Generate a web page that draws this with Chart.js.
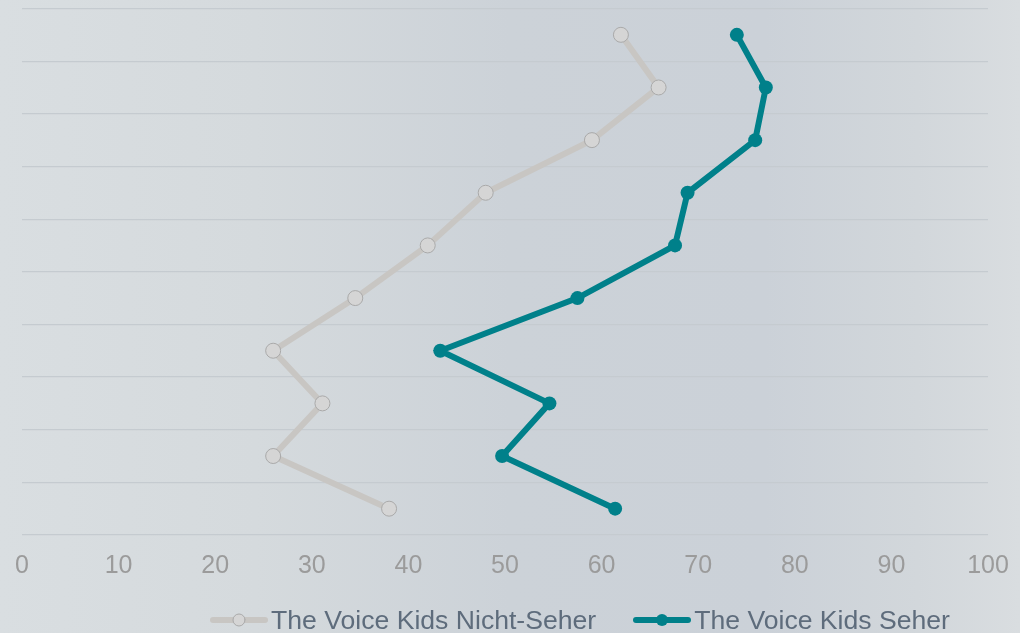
<!DOCTYPE html>
<html><head><meta charset="utf-8">
<script src="https://cdn.jsdelivr.net/npm/chart.js@4"></script>
<style>
html,body{margin:0;padding:0;width:1020px;height:633px;overflow:hidden;
background:linear-gradient(to right,#d9dee1 0%,#d5dadd 25%,#ccd2d8 50%,#cbd1d8 75%,#d2d7db 90%,#d9dde0 100%);}
#wrap{position:absolute;left:0;top:0;width:1020px;height:633px;}
#legend{position:absolute;left:210px;top:605px;height:30px;display:flex;align-items:center;
font-family:'Liberation Sans',Arial,sans-serif;font-size:26.6px;line-height:30px;color:#5e6c7c;white-space:nowrap;}
#legend .item{display:flex;align-items:center;margin-right:37px;}
#legend canvas{display:block;margin-right:3px;}
</style></head><body>
<div id="wrap"><canvas id="c" width="1020" height="633"></canvas></div>
<div id="legend"></div>
<script>
const categories = ['1','2','3','4','5','6','7','8','9','10'];
const nichtSeher = [62.0, 65.9, 59.0, 48.0, 42.0, 34.5, 26.0, 31.1, 26.0, 38.0];
const seher = [74.0, 77.0, 75.9, 68.9, 67.6, 57.5, 43.3, 54.6, 49.7, 61.4];
const seriesNames = ['The Voice Kids Nicht-Seher', 'The Voice Kids Seher'];
const xTicks = [0,10,20,30,40,50,60,70,80,90,100];

const styles = [
  { line: '#c8c6c3', fill: '#d5d5d5', border: '#a9a9a9', r: 7.5, bw: 1 },
  { line: '#00808a', fill: '#00808a', border: '#00808a', r: 7, bw: 0 }
];

function legendIcon(s) {
  const c = document.createElement('canvas');
  c.width = 58; c.height = 18;
  const g = c.getContext('2d');
  g.strokeStyle = s.line; g.lineWidth = 6; g.lineCap = 'round';
  g.beginPath(); g.moveTo(3,9); g.lineTo(55,9); g.stroke();
  g.beginPath(); g.arc(29,9,6,0,Math.PI*2);
  g.fillStyle = s.fill; g.fill();
  if (s.bw) { g.strokeStyle = s.border; g.lineWidth = 1; g.stroke(); }
  return c;
}

const chart = new Chart(document.getElementById('c'), {
  type: 'line',
  data: {
    labels: categories,
    datasets: [nichtSeher, seher].map((d, i) => ({
      label: seriesNames[i], data: d, borderColor: styles[i].line, borderWidth: 6,
      pointRadius: styles[i].r, pointBackgroundColor: styles[i].fill,
      pointBorderColor: styles[i].border, pointBorderWidth: styles[i].bw,
      tension: 0, fill: false
    }))
  },
  options: {
    indexAxis: 'y',
    responsive: false,
    animation: false,
    layout: { padding: { left: 22, right: 32, top: 7, bottom: 44 } },
    scales: {
      x: {
        type: 'linear', min: 0, max: 100,
        afterBuildTicks: (s) => { s.ticks = xTicks.map(v => ({ value: v })); },
        grid: { display: false },
        border: { display: false },
        ticks: { color: '#9b9b9b', font: { family: 'Liberation Sans', size: 25 }, padding: 8 }
      },
      y: {
        type: 'category',
        offset: true,
        grid: { offset: true, color: '#c5cbd0', lineWidth: 1.2, drawTicks: false },
        border: { display: false },
        ticks: { display: false }
      }
    },
    plugins: { legend: { display: false }, tooltip: { enabled: false } }
  }
});

const legendEl = document.getElementById('legend');
chart.data.datasets.forEach((d, i) => {
  const item = document.createElement('div');
  item.className = 'item';
  item.appendChild(legendIcon(styles[i]));
  const span = document.createElement('span');
  span.textContent = d.label;
  item.appendChild(span);
  legendEl.appendChild(item);
});
</script></body></html>
